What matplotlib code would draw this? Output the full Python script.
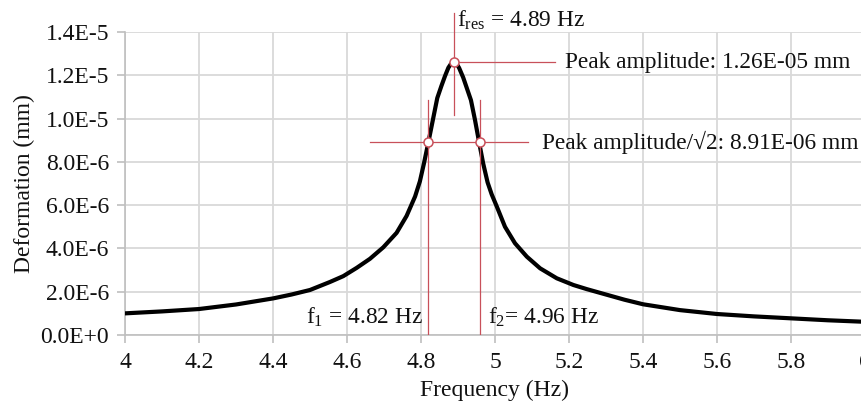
import matplotlib
matplotlib.use("Agg")
import matplotlib.pyplot as plt

# ---- data ----
freq = [4.00, 4.10, 4.20, 4.30, 4.40, 4.45, 4.50, 4.554, 4.59, 4.626, 4.662,
        4.698, 4.734, 4.761, 4.784, 4.797, 4.808, 4.820, 4.832, 4.844, 4.855,
        4.865, 4.874, 4.881, 4.889, 4.896, 4.903, 4.914, 4.925, 4.935, 4.946,
        4.957, 4.968, 4.980, 4.991, 5.005, 5.027, 5.054, 5.086, 5.122, 5.167,
        5.212, 5.248, 5.30, 5.35, 5.40, 5.50, 5.60, 5.70, 5.80, 5.90, 6.00]
deform_e6 = [1.00, 1.09, 1.20, 1.41, 1.69, 1.87, 2.08, 2.45, 2.72, 3.10, 3.52,
             4.05, 4.72, 5.50, 6.40, 7.10, 7.93, 8.91, 9.93, 10.95, 11.50,
             11.97, 12.35, 12.53, 12.60, 12.54, 12.34, 11.90, 11.35, 10.85, 9.93,
             8.91, 7.93, 7.05, 6.50, 5.93, 5.00, 4.24, 3.62, 3.08, 2.62,
             2.31, 2.12, 1.87, 1.63, 1.42, 1.15, 0.97, 0.86, 0.77, 0.68, 0.61]
deform = [v * 1e-6 for v in deform_e6]

f_res = 4.89
f1 = 4.82
f2 = 4.96
peak_amp = 1.26e-5
half_amp = 8.91e-6

xticks = [4.0, 4.2, 4.4, 4.6, 4.8, 5.0, 5.2, 5.4, 5.6, 5.8, 6.0]
xtick_labels = ["4", "4.2", "4.4", "4.6", "4.8", "5", "5.2", "5.4", "5.6", "5.8", "6"]
yticks = [0, 2e-6, 4e-6, 6e-6, 8e-6, 1.0e-5, 1.2e-5, 1.4e-5]
ytick_labels = ["0.0E+0", "2.0E-6", "4.0E-6", "6.0E-6", "8.0E-6", "1.0E-5", "1.2E-5", "1.4E-5"]

# ---- style ----
plt.rcParams['font.family'] = ['Liberation Serif', 'DejaVu Serif']
plt.rcParams['mathtext.fontset'] = 'custom'
plt.rcParams['mathtext.rm'] = 'Liberation Serif'
plt.rcParams['mathtext.it'] = 'Liberation Serif:italic'

RED = '#C8505A'
GRID = '#d9d9d9'
AX = '#bfbfbf'
TXT = '#111111'

fig = plt.figure(figsize=(8.61, 4.13), dpi=100)
ax = fig.add_axes([125 / 861, 78 / 413, 740 / 861, 303 / 413])

ax.set_xlim(4.0, 6.0)
ax.set_ylim(0, 1.4e-5)
ax.set_xticks(xticks)
ax.set_xticklabels(xtick_labels)
ax.set_yticks(yticks)
ax.set_yticklabels(ytick_labels)

ax.grid(True, color=GRID, linewidth=1.3)
ax.set_axisbelow(True)
for s in ['top', 'right']:
    ax.spines[s].set_visible(False)
for s in ['left', 'bottom']:
    ax.spines[s].set_color(AX)
    ax.spines[s].set_linewidth(1.2)
ax.tick_params(axis='both', colors=AX, length=5.5, width=1.2, labelsize=17,
               labelcolor=TXT)
ax.tick_params(axis='x', pad=7)
ax.tick_params(axis='y', pad=6)

ax.set_xlabel("Frequency (Hz)", fontsize=17, color=TXT, labelpad=5)
ax.set_ylabel("Deformation (mm)", fontsize=17, color=TXT, labelpad=4)

# curve
ax.plot(freq, deform, color='black', linewidth=3.0, solid_joinstyle='round',
        solid_capstyle='round', zorder=3)

# annotation lines
lw = 0.9
ax.plot([f_res, f_res], [peak_amp + 2.3e-6, peak_amp - 2.45e-6], color=RED, lw=lw,
        clip_on=False, zorder=4)
ax.plot([f_res, f_res + 0.272], [peak_amp, peak_amp], color=RED, lw=lw, zorder=4)
ax.plot([f1 - 0.158, f2 + 0.129], [half_amp, half_amp], color=RED, lw=lw, zorder=4)
for fx in (f1, f2):
    ax.plot([fx, fx], [half_amp + 1.94e-6, 0.05e-6], color=RED, lw=lw, zorder=4)

# markers
ax.plot([f_res], [peak_amp], 'o', ms=6.5, mfc='white', mec=RED, mew=1.1, zorder=5)
ax.plot([f1, f2], [half_amp, half_amp], 'o', ms=6.5, mfc='white', mec=RED, mew=1.1,
        zorder=5, linestyle='none')

# annotation texts
fs = 16.8
ax.text(f_res + 0.006, 1.455e-5, r"f$_{\mathrm{res}}$" + f" = {f_res:.2f} Hz",
        fontsize=fs, ha='left', va='center', clip_on=False, zorder=6, color=TXT)
ax.text(5.19, peak_amp, f"Peak amplitude: {peak_amp:.2E} mm",
        fontsize=fs, ha='left', va='center', zorder=6, color=TXT)
ax.text(5.127, half_amp, f"Peak amplitude/\u221a2: {half_amp:.2E} mm",
        fontsize=fs, ha='left', va='center', zorder=6, color=TXT)
ax.text(f1 - 0.014, 0.83e-6, r"f$_{\mathrm{1}}$" + f" = {f1:.2f} Hz",
        fontsize=fs, ha='right', va='center', zorder=6, color=TXT)
ax.text(f2 + 0.021, 0.83e-6, r"f$_{\mathrm{2}}$" + f"= {f2:.2f} Hz",
        fontsize=fs, ha='left', va='center', zorder=6, color=TXT)

fig.savefig("out.png", dpi=100)
